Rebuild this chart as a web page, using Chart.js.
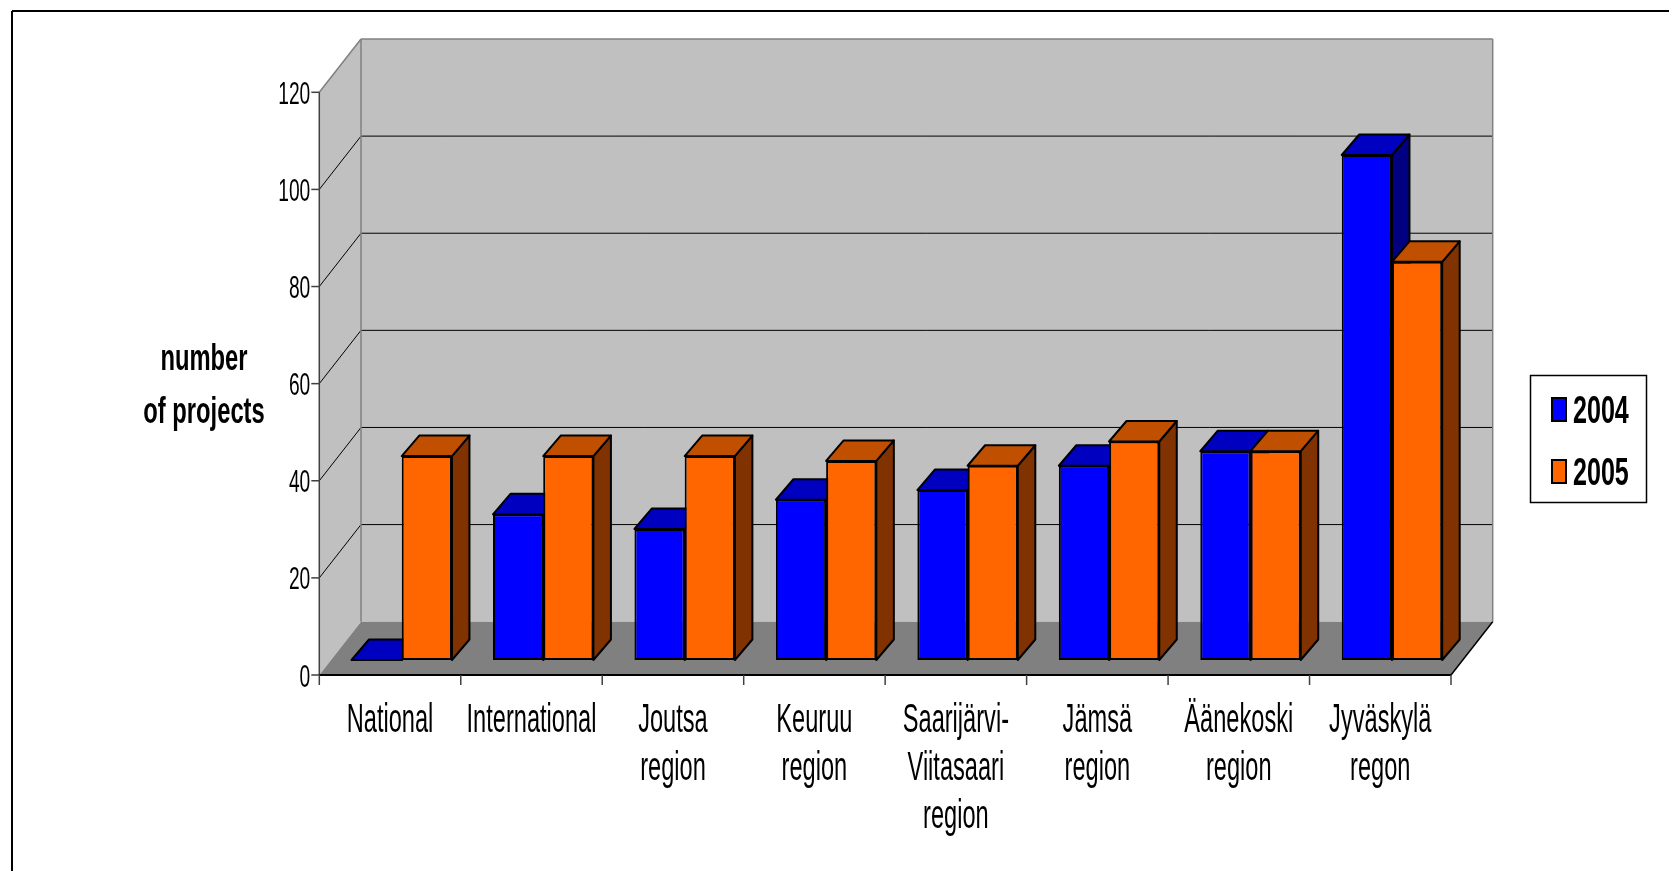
<!DOCTYPE html>
<html>
<head>
<meta charset="utf-8">
<title>number of projects 2004 / 2005</title>
<script src="https://cdn.jsdelivr.net/npm/chart.js@4.4.1/dist/chart.umd.min.js"></script>
<style>
  html, body { margin: 0; padding: 0; background: #ffffff; }
  #projectChart { display: block; }
</style>
</head>
<body>
<canvas id="projectChart" width="1669" height="871"></canvas>
<script>
// data
const categories = [
    ['National'],
    ['International'],
    ['Joutsa', 'region'],
    ['Keuruu', 'region'],
    ['Saarijärvi-', 'Viitasaari', 'region'],
    ['Jämsä', 'region'],
    ['Äänekoski', 'region'],
    ['Jyväskylä', 'regon']
];
const seriesNames = ['2004', '2005'];
const projects2004 = [0, 30, 27, 33, 35, 40, 43, 104];
const projects2005 = [42, 42, 42, 41, 40, 45, 43, 82];
const yTicks = [0, 20, 40, 60, 80, 100, 120];
const yTitle = ['number', 'of projects'];

// look of the old 3-D spreadsheet chart
const frontColors = ['#0000FF', '#FF6600'];
const topColors = ['#0000C0', '#C04F00'];
const sideColors = ['#000080', '#803300'];
const WALL = { dx: 41.7, dy: 53.3 };      // front edge -> back wall
const SHIFT = { dx: 11.7, dy: 15 };       // front edge -> front face of bars
const DEPTH = { dx: 17.5, dy: 20.5 };     // depth of one bar
const FONT = '"Liberation Sans", Arial, sans-serif';

function squeezedText(ctx, text, x, y, size, bold, align, sx) {
    ctx.save();
    ctx.translate(x, y);
    ctx.scale(sx, 1);
    ctx.font = (bold ? 'bold ' : '') + size + 'px ' + FONT;
    ctx.textAlign = align;
    ctx.textBaseline = 'alphabetic';
    ctx.fillStyle = '#000000';
    ctx.fillText(text, 0, 0);
    ctx.restore();
}

function poly(ctx, pts, fill, stroke, lw) {
    ctx.beginPath();
    ctx.moveTo(pts[0][0], pts[0][1]);
    for (let i = 1; i < pts.length; i++) ctx.lineTo(pts[i][0], pts[i][1]);
    ctx.closePath();
    if (fill) { ctx.fillStyle = fill; ctx.fill(); }
    if (stroke) { ctx.strokeStyle = stroke; ctx.lineWidth = lw || 1; ctx.stroke(); }
}

function line(ctx, x1, y1, x2, y2, color, lw) {
    ctx.beginPath();
    ctx.moveTo(x1, y1);
    ctx.lineTo(x2, y2);
    ctx.strokeStyle = color;
    ctx.lineWidth = lw || 1;
    ctx.stroke();
}

const boxPlugin = {
    id: 'box3d',
    beforeDraw(chart) {
        const ctx = chart.ctx;
        const x = chart.scales.x, y = chart.scales.y;
        const L = x.left, R = x.right;
        const y0 = y.getPixelForValue(0), yMax = y.getPixelForValue(120);

        ctx.save();
        ctx.lineJoin = 'miter';

        // frame of the picture (only top and left edges are visible)
        line(ctx, 12, 11, 1669, 11, '#000000', 2);
        line(ctx, 12, 11, 12, 871, '#000000', 2);

        // side wall, back wall, floor
        poly(ctx, [[L, y0], [L, yMax], [L + WALL.dx, yMax - WALL.dy], [L + WALL.dx, y0 - WALL.dy]], '#C0C0C0');
        poly(ctx, [[L + WALL.dx, yMax - WALL.dy], [R + WALL.dx, yMax - WALL.dy], [R + WALL.dx, y0 - WALL.dy], [L + WALL.dx, y0 - WALL.dy]], '#C0C0C0');
        poly(ctx, [[L, y0], [R, y0], [R + WALL.dx, y0 - WALL.dy], [L + WALL.dx, y0 - WALL.dy]], '#808080');

        // grid lines on the walls
        yTicks.forEach(v => {
            if (v === 0 || v === 120) return;
            const py = y.getPixelForValue(v);
            line(ctx, L, py, L + WALL.dx, py - WALL.dy, '#000000', 1);
            line(ctx, L + WALL.dx, py - WALL.dy, R + WALL.dx, py - WALL.dy, '#000000', 1);
        });

        // wall edges
        line(ctx, L, yMax, L + WALL.dx, yMax - WALL.dy, '#808080', 1.5);
        line(ctx, L + WALL.dx, yMax - WALL.dy, R + WALL.dx, yMax - WALL.dy, '#808080', 1.5);
        line(ctx, R + WALL.dx, yMax - WALL.dy, R + WALL.dx, y0 - WALL.dy, '#808080', 1.5);
        line(ctx, L + WALL.dx, yMax - WALL.dy, L + WALL.dx, y0 - WALL.dy, '#808080', 1.5);
        line(ctx, R, y0, R + WALL.dx, y0 - WALL.dy, '#000000', 1.5);

        // value axis
        line(ctx, L, yMax, L, y0, '#404040', 1.5);
        yTicks.forEach(v => {
            const py = y.getPixelForValue(v);
            line(ctx, L - 8, py, L, py, '#404040', 1.5);
            squeezedText(ctx, String(v), L - 9, py + 11.5, 32, false, 'right', 0.6);
        });

        // category axis
        line(ctx, L, y0, R, y0, '#000000', 2);
        const step = (R - L) / categories.length;
        for (let i = 0; i <= categories.length; i++) {
            const px = L + i * step;
            line(ctx, px, y0, px, y0 + 10, '#404040', 1.5);
        }
        chart.data.labels.forEach((lines, i) => {
            const px = x.getPixelForValue(i);
            lines.forEach((t, k) => {
                squeezedText(ctx, t, px, 732 + k * 48, 40, false, 'center', 0.59);
            });
        });

        // axis title
        squeezedText(ctx, yTitle[0], 204, 370, 36, true, 'center', 0.66);
        squeezedText(ctx, yTitle[1], 204, 423, 36, true, 'center', 0.66);

        // legend
        ctx.strokeStyle = '#000000';
        ctx.lineWidth = 1.5;
        ctx.strokeRect(1530.5, 375.5, 116, 127);
        chart.data.datasets.forEach((ds, i) => {
            const top = 398 + i * 62;
            ctx.fillStyle = ds.backgroundColor;
            ctx.fillRect(1552, top, 14, 23);
            ctx.lineWidth = 2;
            ctx.strokeRect(1552, top, 14, 23);
            squeezedText(ctx, ds.label, 1573, top + 25, 38, true, 'left', 0.66);
        });

        ctx.restore();
    },
    beforeDatasetsDraw(chart) {
        const ctx = chart.ctx;
        ctx.save();
        ctx.translate(SHIFT.dx, -SHIFT.dy);
        ctx.lineJoin = 'round';
        // tops and sides first, the library then paints the front faces over them
        for (let i = 0; i < categories.length; i++) {
            chart.data.datasets.forEach((ds, d) => {
                const el = chart.getDatasetMeta(d).data[i];
                const p = el.getProps(['x', 'y', 'base', 'width'], true);
                const x1 = p.x - p.width / 2, x2 = p.x + p.width / 2;
                poly(ctx, [[x2, p.y], [x2 + DEPTH.dx, p.y - DEPTH.dy], [x2 + DEPTH.dx, p.base - DEPTH.dy], [x2, p.base]], sideColors[d], '#000000', 2);
                poly(ctx, [[x1, p.y], [x2, p.y], [x2 + DEPTH.dx, p.y - DEPTH.dy], [x1 + DEPTH.dx, p.y - DEPTH.dy]], topColors[d], '#000000', 2);
            });
        }
    },
    afterDatasetsDraw(chart) {
        chart.ctx.restore();
    }
};

const ctx = document.getElementById('projectChart');
ctx.chart = new Chart(ctx, {
    type: 'bar',
    data: {
        labels: categories,
        datasets: [
            { label: seriesNames[0], data: projects2004 },
            { label: seriesNames[1], data: projects2005 }
        ].map((ds, i) => Object.assign(ds, {
            backgroundColor: frontColors[i],
            borderColor: '#000000',
            borderWidth: 2,
            borderSkipped: false,
            categoryPercentage: 0.71,
            barPercentage: 1.0,
            clip: false
        }))
    },
    options: {
        responsive: false,
        animation: false,
        events: [],
        layout: { padding: { left: 319.3, right: 218, top: 92.3, bottom: 196 } },
        plugins: {
            legend: { display: false },
            tooltip: { enabled: false }
        },
        scales: {
            x: { display: false },
            y: { display: false, min: 0, max: 120, ticks: { stepSize: 20 } }
        }
    },
    plugins: [boxPlugin]
});
</script>
</body>
</html>
